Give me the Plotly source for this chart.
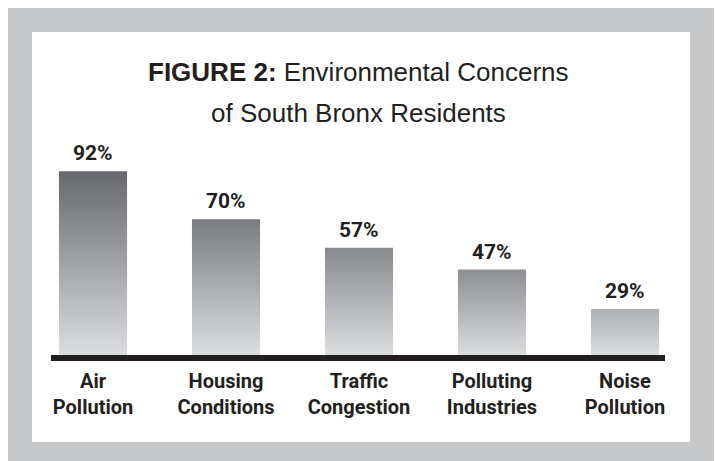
import plotly.graph_objects as go

# ---- data ----
categories = ["Air<br>Pollution", "Housing<br>Conditions", "Traffic<br>Congestion",
              "Polluting<br>Industries", "Noise<br>Pollution"]
values = [92, 70, 57, 47, 29]
value_labels = ["92%", "70%", "57%", "47%", "29%"]
title_line1 = "<b>FIGURE 2:</b> Environmental Concerns"
title_line2 = "of South Bronx Residents"

# ---- styles / layout ----
W, H = 716, 461
ML, MR, MT, MB = 51, 51, 150, 106
Y0, Y1 = 7.9, 101.7
X0, X1 = -0.316, 4.301
HALF = 0.256
top_colors = ["#67686c", "#7b7c80", "#88898d", "#8d8e92", "#aeafb2"]
bottom_color = "#dcdddf"
INK = "#231f20"
GRAY = "#c7c8ca"
COND = "Roboto, Liberation Sans, sans-serif"
SANS = "Liberation Sans, Arial, Roboto, sans-serif"

PW = W - ML - MR
PH = H - MT - MB


def px_x(px):
    return (px - ML) / PW


def px_y(py):
    return (H - MB - py) / PH


fig = go.Figure()
for i, v in enumerate(values):
    fig.add_trace(go.Scatter(
        x=[i - HALF, i - HALF, i + HALF, i + HALF, i - HALF],
        y=[Y0, v, v, Y0, Y0],
        mode="lines", fill="toself",
        line=dict(width=0, color="rgba(0,0,0,0)"),
        fillgradient=dict(type="vertical",
                          colorscale=[[0, bottom_color], [1, top_colors[i]]]),
        hoverinfo="skip", showlegend=False,
    ))

annotations = []
for i, (v, lab) in enumerate(zip(values, value_labels)):
    annotations.append(dict(
        x=i, y=v, xref="x", yref="y", text=lab, showarrow=False,
        xanchor="center", yanchor="bottom", yshift=4,
        font=dict(family=COND, size=21, color=INK, weight="bold"),
    ))

annotations.append(dict(
    x=0.5, y=px_y(55), xref="paper", yref="paper", text=title_line1,
    showarrow=False, xanchor="center", yanchor="top",
    font=dict(family=SANS, size=26, color=INK),
))
annotations.append(dict(
    x=0.5, y=px_y(96), xref="paper", yref="paper", text=title_line2,
    showarrow=False, xanchor="center", yanchor="top",
    font=dict(family=SANS, size=26, color=INK),
))

shapes = [
    dict(type="rect", xref="paper", yref="paper", layer="below",
         x0=px_x(8), x1=px_x(714), y0=px_y(8), y1=px_y(461),
         fillcolor=GRAY, line=dict(width=0)),
    dict(type="rect", xref="paper", yref="paper", layer="below",
         x0=px_x(32), x1=px_x(690), y0=px_y(32), y1=px_y(442),
         fillcolor="white", line=dict(width=0)),
]

fig.update_layout(
    width=W, height=H,
    margin=dict(l=ML, r=MR, t=MT, b=MB, pad=0),
    paper_bgcolor="white", plot_bgcolor="rgba(0,0,0,0)",
    showlegend=False,
    annotations=annotations, shapes=shapes,
    xaxis=dict(range=[X0, X1], tickmode="array", tickvals=list(range(len(categories))),
               ticktext=categories, showgrid=False, zeroline=False,
               showline=True, linecolor=INK, linewidth=6, ticks="",
               ticklabelstandoff=3,
               tickfont=dict(family=COND, size=20, color=INK, weight="bold"),
               fixedrange=True),
    yaxis=dict(range=[Y0, Y1], visible=False, showgrid=False, zeroline=False,
               fixedrange=True),
)

fig.write_html("out.html")
